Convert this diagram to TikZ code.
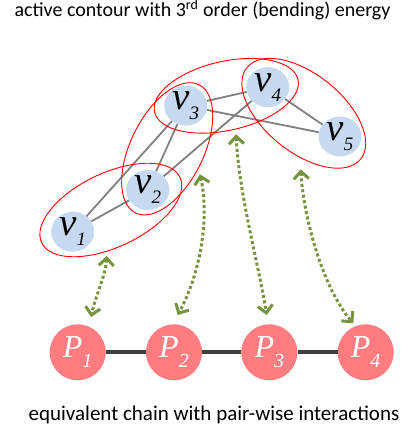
\documentclass[tikz,border=0pt]{standalone}
\usepackage{fontspec}
\setmainfont{Carlito}
\newfontfamily\tnr{Liberation Serif}
\usetikzlibrary{shapes.geometric,arrows.meta}
\definecolor{vblue}{RGB}{198,217,240}
\definecolor{pred}{RGB}{255,125,128}
\definecolor{olivegreen}{RGB}{119,147,60}
\definecolor{chaingray}{RGB}{64,64,64}
\newcommand{\vlab}[1]{{\tnr\itshape\fontsize{39}{39}\selectfont v\raisebox{-10pt}{\fontsize{19}{19}\selectfont #1}}}
\newcommand{\plab}[1]{{\tnr\itshape\fontsize{32}{32}\selectfont P\raisebox{-10pt}{\fontsize{20}{20}\selectfont #1}}}

\begin{document}
\begin{tikzpicture}[x=1pt,y=-1pt,
    vnode/.style={ellipse,fill=vblue,inner sep=0pt,minimum width=43pt,minimum height=40pt},
    pnode/.style={circle,fill=pred,text=white,inner sep=0pt,minimum size=56pt},
    grp/.style={ellipse,draw=red,line width=0.9pt,inner sep=0pt},
    vedge/.style={draw=gray,line width=1.8pt},
    chain/.style={draw=chaingray,line width=3.8pt},
    link/.style={olivegreen,line width=3pt,dash pattern=on 3pt off 2.5pt,
        {Straight Barb[length=7.5pt,width=15pt]}-{Straight Barb[length=7.5pt,width=15pt]}},
    txt/.style={anchor=base,font=\fontsize{20}{20}\selectfont}]
  \useasboundingbox (0,0) rectangle (411,430);
  % the contour
  \node[vnode] (v1) at (72.7,231.7) {\vlab{1}};
  \node[vnode] (v2) at (147.7,190) {\vlab{2}};
  \node[vnode] (v3) at (185.7,105.7) {\vlab{3}};
  \node[vnode] (v4) at (267.7,87.2) {\vlab{4}};
  \node[vnode] (v5) at (340,136.5) {\vlab{5}};
  \draw[vedge] (v1) -- (v2) (v1) -- (v3) (v2) -- (v3) (v2) -- (v4)
    (v3) -- (v4) (v3) -- (v5) (v4) -- (v5);
  \node[grp,minimum width=153pt,minimum height=74pt,rotate=25.3] (e12) at (110.8,210) {};
  \node[grp,minimum width=143pt,minimum height=73pt,rotate=63.7] (e23) at (167.2,148.8) {};
  \node[grp,minimum width=147pt,minimum height=69pt,rotate=12.7] (e34) at (226.3,95.8) {};
  \node[grp,minimum width=146pt,minimum height=78pt,rotate=-38.8] (e45) at (303.8,113.3) {};
  % the chain
  \node[pnode] (p1) at (77.7,352.3) {\plab{1}};
  \node[pnode] (p2) at (174,352.3) {\plab{2}};
  \node[pnode] (p3) at (269.3,352.3) {\plab{3}};
  \node[pnode] (p4) at (365.7,352.3) {\plab{4}};
  \draw[chain] (p1) -- (p2) -- (p3) -- (p4);
  % correspondences
  \coordinate (t1) at (106.7,256);   \coordinate (b1) at (91,317);
  \coordinate (t2) at (200,174.3);   \coordinate (b2) at (177.7,315);
  \coordinate (t3) at (236,134.3);   \coordinate (b3) at (266.7,315);
  \coordinate (t4) at (300.7,169.3); \coordinate (b4) at (353.3,323.3);
  \draw[link] (t1) .. controls +(-1,20) and +(4,-20) .. (b1);
  \draw[link] (t2) .. controls +(10,45) and +(22,-40) .. (b2);
  \draw[link] (t3) .. controls +(3,60) and +(-8,-50) .. (b3);
  \draw[link] (t4) .. controls +(3,50) and +(-30,-35) .. (b4);
  % captions
  \node[txt] (top) at (202.5,16.7) {active contour with 3\textsuperscript{rd} order (bending) energy};
  \node[txt,font=\fontsize{21}{21}\selectfont] (bottom) at (214,420) {equivalent chain with pair-wise interactions};
\end{tikzpicture}
\end{document}
